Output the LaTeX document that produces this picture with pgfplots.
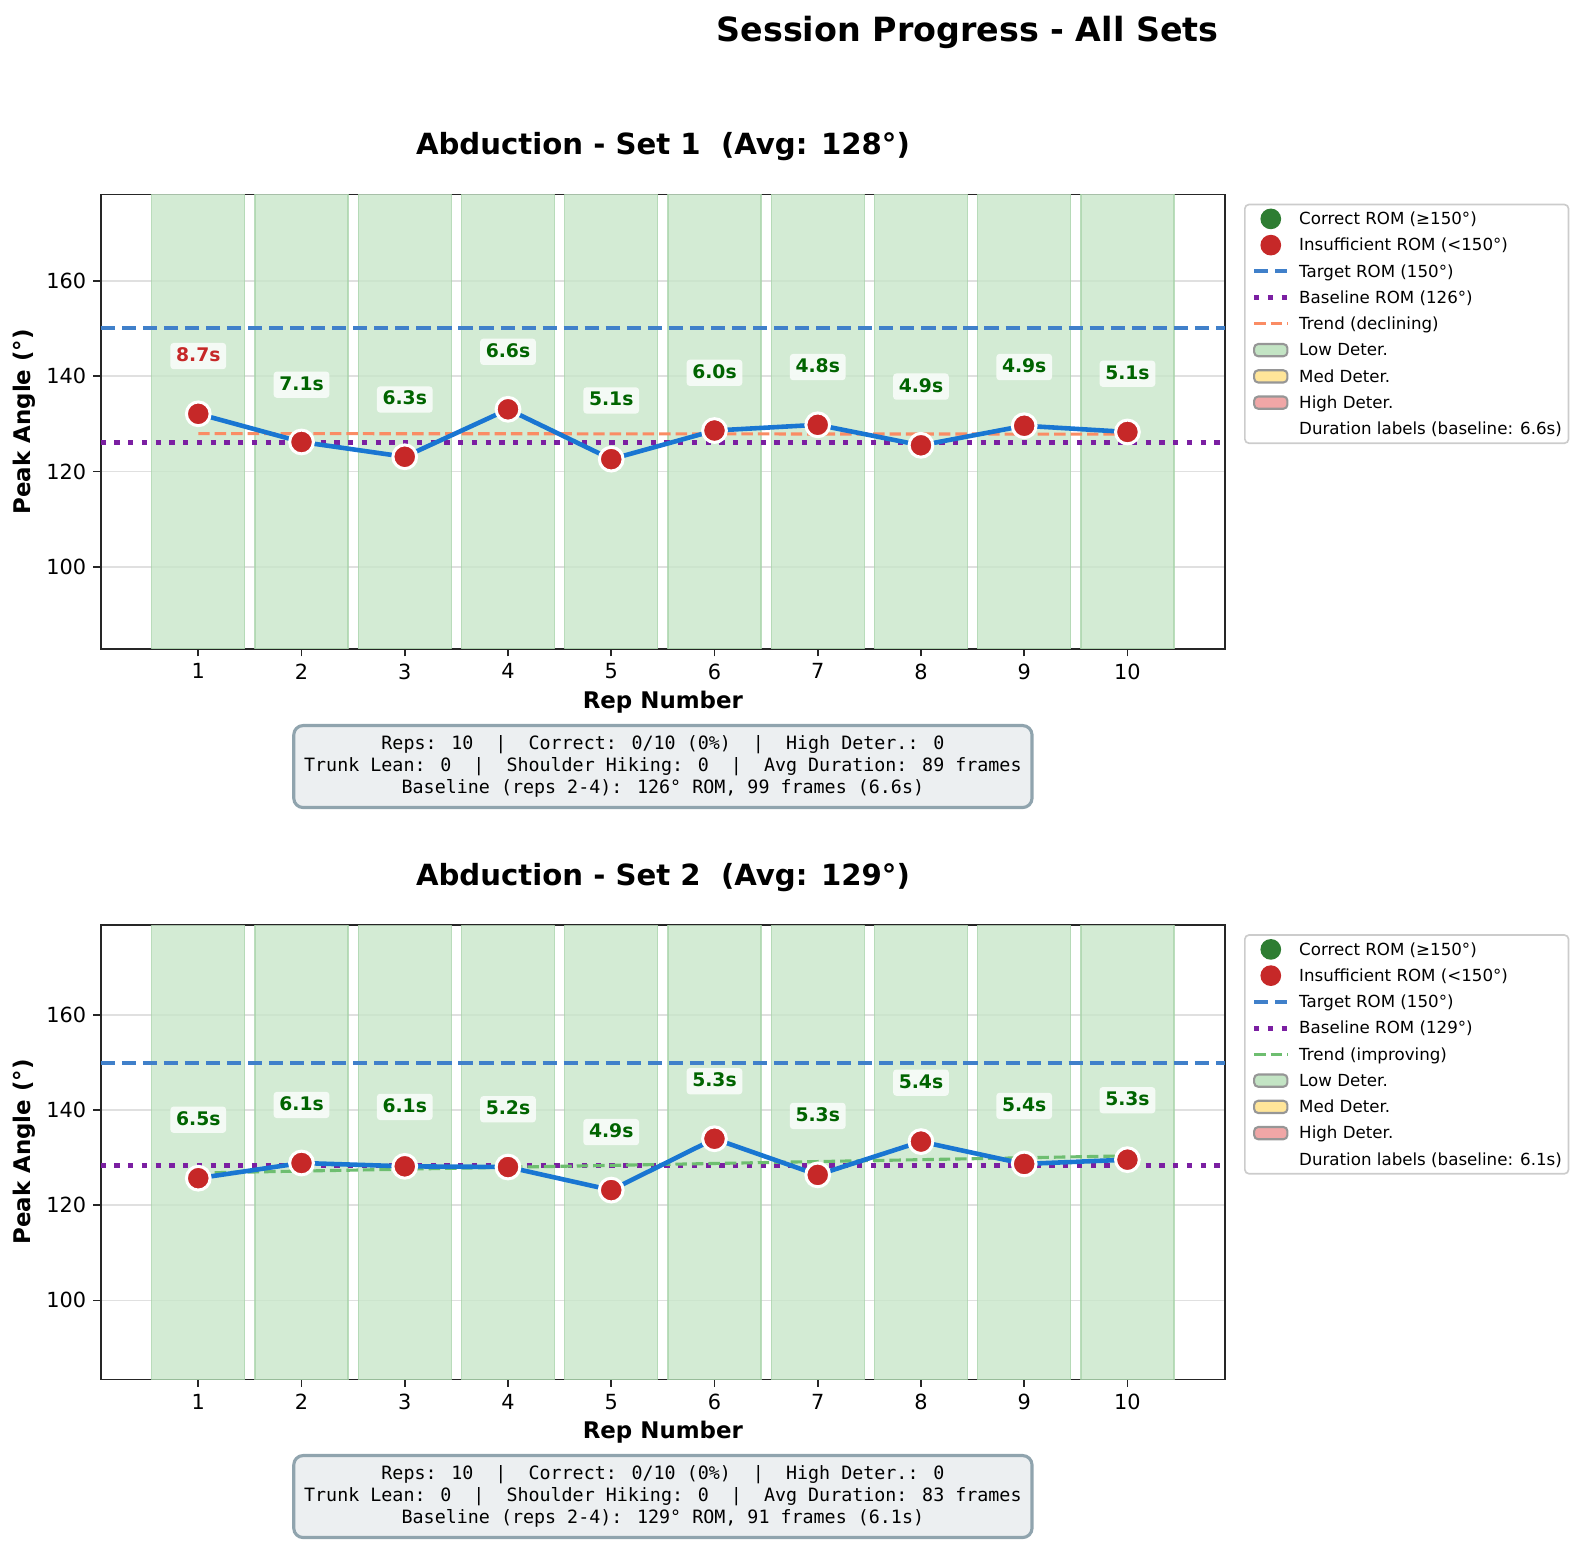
\documentclass[border=0pt]{standalone}
\usepackage{fontspec}
\setmainfont{DejaVu Sans}
\newfontfamily\monofont{DejaVu Sans Mono}
\usepackage{pgfplots}
\pgfplotsset{compat=1.18}

\definecolor{lineblue}{RGB}{25,118,210}
\definecolor{ptred}{RGB}{198,40,40}
\definecolor{okgreen}{RGB}{46,125,50}
\definecolor{targetblue}{RGB}{64,128,202}
\definecolor{basepurple}{RGB}{123,31,162}
\definecolor{trendorange}{RGB}{250,140,100}
\definecolor{trendgreen}{RGB}{110,190,112}
\definecolor{bandfill}{RGB}{200,230,201}
\definecolor{bandedge}{RGB}{170,212,172}
\definecolor{lowfill}{RGB}{195,228,196}
\definecolor{medfill}{RGB}{255,229,153}
\definecolor{highfill}{RGB}{240,166,166}
\definecolor{durgreen}{RGB}{0,100,0}
\definecolor{boxfill}{RGB}{236,239,241}
\definecolor{boxedge}{RGB}{144,164,174}
\definecolor{gridgray}{RGB}{224,224,224}
\definecolor{spine}{RGB}{38,38,38}

\pgfplotsset{
  myaxis/.style={
    scale only axis, width=539.66pt, height=218.16pt,
    anchor=north west,
    xmin=0.055, xmax=10.945,
    xtick={1,2,3,4,5,6,7,8,9,10}, ytick={100,120,140,160},
    tick align=outside, tick pos=left,
    major tick length=3.5pt,
    major tick style={spine, line width=0.8pt},
    axis line style={spine, line width=0.8pt},
    ymajorgrids, major grid style={gridgray, line width=0.8pt},
    tick label style={font=\fontsize{10}{12}\selectfont},
    /pgf/number format/assume math mode=true,
    legend cell align=left,
    legend style={at={(1.0169,0.9798)}, anchor=north west,
      draw={rgb,255:red,204;green,204;blue,204}, fill=white, fill opacity=0.8, text opacity=1, draw opacity=1,
      rounded corners=2pt, line width=0.8pt,
      inner xsep=3.2pt, inner ysep=0.6pt, row sep=0pt, column sep=4.4pt,
      font=\fontsize{8}{9.6}\selectfont,
      nodes={inner sep=0pt, text height=9.0pt, text depth=3.6pt, anchor=west}},
  },
  bands/.style={ybar, bar width=0.9, bar shift=0pt, fill=bandfill, fill opacity=0.8,
    draw=bandedge, draw opacity=0.8, line width=0.6pt, forget plot},
  durlab/.style={draw=none, mark=none, forget plot, nodes near coords, point meta=explicit symbolic,
    every node near coord/.style={anchor=center, font=\bfseries\fontsize{9}{10.8}\selectfont,
      text=#1, fill=white, fill opacity=0.78, text opacity=1, rounded corners=1.5pt,
      inner xsep=2.7pt, inner ysep=2.5pt, text height=6.4pt, text depth=1.2pt}},
  datastyle/.style={lineblue, line width=2.2pt, mark=*, mark size=5.7pt,
    mark options={fill=ptred, draw=white, line width=1.45pt, solid}, forget plot},
  legimgmark/.style={legend image code/.code={\fill[#1, fill opacity=1] (8pt,0pt) circle (4.56pt);}},
  legimgline/.style={legend image code/.code={\draw[#1, draw opacity=1] (0pt,0pt) -- (16pt,0pt);}},
  legimgarea/.style={legend image code/.code={\draw[fill=#1, fill opacity=1, draw opacity=1, draw={rgb,255:red,150;green,150;blue,150}, line width=1pt] (0pt,-2.95pt) rectangle (16pt,2.95pt);}},
}

\begin{document}
\begin{tikzpicture}
\useasboundingbox (0,0) rectangle (757.92pt,-740.64pt);

% ---------------- Set 1 ----------------
\begin{axis}[myaxis, at={(48.34pt,-93.36pt)}, ymin=82.82, ymax=178.06]
\addplot[bands] coordinates {(1,250) (2,250) (3,250) (4,250) (5,250) (6,250) (7,250) (8,250) (9,250) (10,250)};
\addplot[targetblue, line width=2pt, dash pattern=on 6.8pt off 3.3pt, forget plot] coordinates {(0.055,150) (10.945,150)};
\addplot[basepurple, line width=2.5pt, dash pattern=on 2.5pt off 4.1pt, forget plot] coordinates {(0.055,126.1) (10.945,126.1)};
\addplot[trendorange, line width=1.5pt, dash pattern=on 5.5pt off 2.4pt, forget plot] coordinates {(1,127.96) (10,127.84)};
\addplot[datastyle] coordinates {(1,132.1) (2,126.2) (3,123.1) (4,133.05) (5,122.6) (6,128.6) (7,129.8) (8,125.5) (9,129.6) (10,128.3)};
\addplot[durlab=ptred] coordinates {(1,144.2) [8.7s]};
\addplot[durlab=durgreen] coordinates {(2,138.2) [7.1s] (3,135.1) [6.3s] (4,145.1) [6.6s] (5,134.9) [5.1s] (6,140.7) [6.0s] (7,141.9) [4.8s] (8,137.8) [4.9s] (9,141.9) [4.9s] (10,140.5) [5.1s]};
\addlegendimage{legimgmark=okgreen}
\addlegendimage{legimgmark=ptred}
\addlegendimage{legimgline={targetblue, line width=2pt, dash pattern=on 6.8pt off 3.3pt}}
\addlegendimage{legimgline={basepurple, line width=2.5pt, dash pattern=on 2.5pt off 4.1pt}}
\addlegendimage{legimgline={trendorange, line width=1.5pt, dash pattern=on 5.5pt off 2.4pt}}
\addlegendimage{legimgarea=lowfill}
\addlegendimage{legimgarea=medfill}
\addlegendimage{legimgarea=highfill}
\addlegendimage{empty legend}
\legend{Correct ROM (≥150°), Insufficient ROM (<150°), Target ROM (150°), Baseline ROM (126°), Trend (declining), Low Deter., Med Deter., High Deter., Duration labels (baseline: 6.6s)}
\end{axis}

% ---------------- Set 2 ----------------
\begin{axis}[myaxis, at={(48.34pt,-444pt)}, ymin=83.37, ymax=178.95]
\addplot[bands] coordinates {(1,250) (2,250) (3,250) (4,250) (5,250) (6,250) (7,250) (8,250) (9,250) (10,250)};
\addplot[targetblue, line width=2pt, dash pattern=on 6.8pt off 3.3pt, forget plot] coordinates {(0.055,150) (10.945,150)};
\addplot[basepurple, line width=2.5pt, dash pattern=on 2.5pt off 4.1pt, forget plot] coordinates {(0.055,128.3) (10.945,128.3)};
\addplot[trendgreen, line width=1.5pt, dash pattern=on 5.5pt off 2.4pt, forget plot] coordinates {(1,126.8) (10,130.4)};
\addplot[datastyle] coordinates {(1,125.7) (2,128.9) (3,128.2) (4,128.05) (5,123.2) (6,134.0) (7,126.4) (8,133.4) (9,128.7) (10,129.6)};
\addplot[durlab=durgreen] coordinates {(1,138.0) [6.5s] (2,141.1) [6.1s] (3,140.7) [6.1s] (4,140.2) [5.2s] (5,135.4) [4.9s] (6,146.1) [5.3s] (7,138.8) [5.3s] (8,145.8) [5.4s] (9,140.9) [5.4s] (10,142.1) [5.3s]};
\addlegendimage{legimgmark=okgreen}
\addlegendimage{legimgmark=ptred}
\addlegendimage{legimgline={targetblue, line width=2pt, dash pattern=on 6.8pt off 3.3pt}}
\addlegendimage{legimgline={basepurple, line width=2.5pt, dash pattern=on 2.5pt off 4.1pt}}
\addlegendimage{legimgline={trendgreen, line width=1.5pt, dash pattern=on 5.5pt off 2.4pt}}
\addlegendimage{legimgarea=lowfill}
\addlegendimage{legimgarea=medfill}
\addlegendimage{legimgarea=highfill}
\addlegendimage{empty legend}
\legend{Correct ROM (≥150°), Insufficient ROM (<150°), Target ROM (150°), Baseline ROM (129°), Trend (improving), Low Deter., Med Deter., High Deter., Duration labels (baseline: 6.1s)}
\end{axis}

% ---------------- Text ----------------
\begin{scope}[x=0.48pt, y=-0.48pt]
\node[font=\bfseries\fontsize{16}{19}\selectfont] at (967.7,32) {Session Progress - All Sets};
\node[font=\bfseries\fontsize{14}{17}\selectfont] at (662.9,147) {Abduction - Set 1\ \ (Avg: 128°)};
\node[font=\bfseries\fontsize{14}{17}\selectfont] at (662.9,878) {Abduction - Set 2\ \ (Avg: 129°)};
\node[font=\bfseries\fontsize{11}{13}\selectfont] at (662.9,702.6) {Rep Number};
\node[font=\bfseries\fontsize{11}{13}\selectfont] at (662.9,1432.6) {Rep Number};
\node[font=\bfseries\fontsize{11}{13}\selectfont, rotate=90] at (24,421.8) {Peak Angle (°)};
\node[font=\bfseries\fontsize{11}{13}\selectfont, rotate=90] at (24,1152) {Peak Angle (°)};
\node[anchor=north, draw=boxedge, fill=boxfill, line width=1.5pt, rounded corners=4.5pt,
  inner xsep=5pt, inner ysep=5pt, align=center, font=\monofont\fontsize{8.8}{10.4}\selectfont]
  at (662.9,724) {Reps: 10~~|~~Correct: 0/10 (0\%)~~|~~High Deter.: 0\\Trunk Lean: 0~~|~~Shoulder Hiking: 0~~|~~Avg Duration: 89 frames\\Baseline (reps 2-4): 126° ROM, 99 frames (6.6s)};
\node[anchor=north, draw=boxedge, fill=boxfill, line width=1.5pt, rounded corners=4.5pt,
  inner xsep=5pt, inner ysep=5pt, align=center, font=\monofont\fontsize{8.8}{10.4}\selectfont]
  at (662.9,1454) {Reps: 10~~|~~Correct: 0/10 (0\%)~~|~~High Deter.: 0\\Trunk Lean: 0~~|~~Shoulder Hiking: 0~~|~~Avg Duration: 83 frames\\Baseline (reps 2-4): 129° ROM, 91 frames (6.1s)};
\end{scope}
\end{tikzpicture}
\end{document}
